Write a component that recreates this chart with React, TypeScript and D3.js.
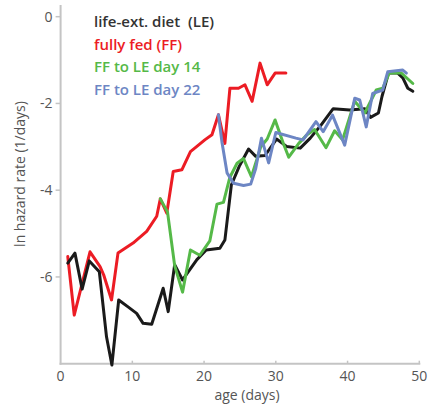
import React from "react";
import * as d3 from "d3";

// [age (days), ln hazard rate]
const lifeExt: [number, number][] = [
  [1, -5.68], [2, -5.45], [3, -6.28], [4, -5.63], [5.4, -5.88], [6.4, -7.38], [7.15, -8.03],
  [8.1, -6.53], [9.4, -6.69], [10.6, -6.84], [11.5, -7.07], [12.7, -7.09], [14.3, -6.26],
  [15, -6.8], [15.9, -5.72], [17, -6.07], [19, -5.6], [20.3, -5.38], [22.2, -5.34],
  [22.9, -5.15], [23.8, -3.88], [24.9, -3.45], [26.2, -3.05], [27.2, -3.22], [28.5, -3.2],
  [30.1, -2.82], [31.5, -2.99], [33.4, -3.03], [34.8, -2.8], [36.3, -2.5], [38, -2.12],
  [40.3, -2.15], [42.4, -2.12], [43.2, -2.32], [44.3, -2.22], [44.8, -1.84], [45.7, -1.3],
  [47, -1.3], [47.7, -1.41], [48.4, -1.65], [49.1, -1.72],
];

const fullyFed: [number, number][] = [
  [1, -5.53], [1.9, -6.88], [4.1, -5.42], [5.5, -5.76], [6, -5.95], [7.1, -6.53], [8, -5.45],
  [10.1, -5.22], [12, -4.95], [13.4, -4.6], [13.9, -4.2], [14.8, -4.53], [15.7, -3.57],
  [16.9, -3.53], [18.1, -3.11], [19, -2.99], [20.1, -2.84], [21.1, -2.72], [22, -2.26],
  [22.9, -2.92], [23.6, -1.65], [24.8, -1.65], [25.7, -1.57], [26.7, -1.95], [27.8, -1.07],
  [28.8, -1.57], [29.9, -1.3], [31.4, -1.3],
];

const switchDay14: [number, number][] = [
  [13.9, -4.2], [14.9, -4.5], [15.9, -5.74], [17, -6.35], [18.1, -5.38], [19.4, -5.5],
  [20.8, -5.17], [21.8, -4.32], [22.7, -4.28], [23.6, -3.7], [24.6, -3.38], [25.5, -3.27],
  [26.6, -3.69], [27.9, -3.0], [28.8, -2.82], [29.9, -2.38], [31, -2.9], [31.8, -3.24],
  [33.2, -2.92], [34.3, -2.73], [35.4, -2.6], [37, -3.02], [38.2, -2.63], [39.3, -2.84],
  [41, -1.95], [42.4, -2.22], [44, -1.69], [44.9, -1.65], [45.8, -1.3], [47.5, -1.3],
  [49.1, -1.54],
];

const switchDay22: [number, number][] = [
  [22, -2.26], [22.5, -2.9], [23.2, -3.6], [24.1, -3.84], [25.5, -3.89], [26.5, -3.86],
  [27.2, -3.5], [28, -2.8], [29, -3.37], [30, -2.67], [32.8, -2.8], [33.8, -2.84],
  [35.6, -2.42], [36.6, -2.65], [37.9, -2.27], [39.6, -2.96], [41, -1.88], [41.7, -1.92],
  [42.6, -2.54], [43.5, -1.77], [44.9, -1.69], [45.6, -1.27], [47.7, -1.23], [48.2, -1.3],
];

const xTicks = [0, 10, 20, 30, 40, 50];
const yTicks = [0, -2, -4, -6];

const seriesNames = ["life-ext. diet  (LE)", "fully fed (FF)", "FF to LE day 14", "FF to LE day 22"];
const seriesColors = ["#1a1a1a", "#ec1c24", "#55b948", "#6d86c4"];

const FONT = "'Open Sans', sans-serif";

export default function App() {
  const x = d3.scaleLinear().domain([0, 50]).range([60.6, 419.3]);
  const y = d3.scaleLinear().domain([-8, 0]).range([363.7, 16.7]);
  const line = d3
    .line<[number, number]>()
    .x((d) => x(d[0]))
    .y((d) => y(d[1]));

  const data = [lifeExt, fullyFed, switchDay14, switchDay22];
  const drawOrder = [1, 0, 2, 3];
  const axisColor = "#c4c4c4";
  const textColor = "#555";

  return (
    <svg
      width={428}
      height={407}
      style={{ position: "absolute", left: 0, top: 0, background: "#fff" }}
    >
      {/* axes */}
      <line x1={x(0)} x2={x(0)} y1={5} y2={y(-8) + 1} stroke={axisColor} strokeWidth={2} />
      <line x1={x(0) - 1} x2={x(50) + 1} y1={y(-8)} y2={y(-8)} stroke={axisColor} strokeWidth={2} />
      {yTicks.map((t) => (
        <g key={"y" + t}>
          <line x1={x(0) - 5} x2={x(0)} y1={y(t)} y2={y(t)} stroke={axisColor} strokeWidth={1.5} />
          <text
            x={x(0) - 8}
            y={y(t)}
            dy="0.35em"
            textAnchor="end"
            fontFamily={FONT}
            fontSize={14}
            fontWeight={500}
            fill={textColor}
          >
            {t === 0 ? "0" : "-" + Math.abs(t)}
          </text>
        </g>
      ))}
      {xTicks.map((t) => (
        <g key={"x" + t}>
          {t > 0 && (
            <line x1={x(t)} x2={x(t)} y1={y(-8)} y2={y(-8) - 3} stroke={axisColor} strokeWidth={1.5} />
          )}
          <text
            x={x(t)}
            y={y(-8) + 17}
            textAnchor="middle"
            fontFamily={FONT}
            fontSize={14}
            fontWeight={500}
            fill={textColor}
          >
            {t}
          </text>
        </g>
      ))}
      <text x={247} y={400} textAnchor="middle" fontFamily={FONT} fontSize={14} fontWeight={500} fill={textColor}>
        age (days)
      </text>
      <text
        transform="translate(25,174) rotate(-90)"
        textAnchor="middle"
        fontFamily={FONT}
        fontSize={14}
        fontWeight={500}
        fill={textColor}
      >
        ln hazard rate (1/days)
      </text>

      {/* series */}
      {drawOrder.map((i) => (
        <path
          key={"s" + i}
          d={line(data[i]) || ""}
          fill="none"
          stroke={seriesColors[i]}
          strokeWidth={3}
          strokeLinejoin="round"
          strokeLinecap="round"
        />
      ))}

      {/* legend */}
      {seriesNames.map((n, i) => (
        <text
          key={"l" + i}
          x={94}
          y={27 + i * 22.7}
          fontFamily={FONT}
          fontSize={15}
          fontWeight={600}
          fill={i === 0 ? "#333" : seriesColors[i]}
          style={{ whiteSpace: "pre" }}
        >
          {n}
        </text>
      ))}
    </svg>
  );
}
